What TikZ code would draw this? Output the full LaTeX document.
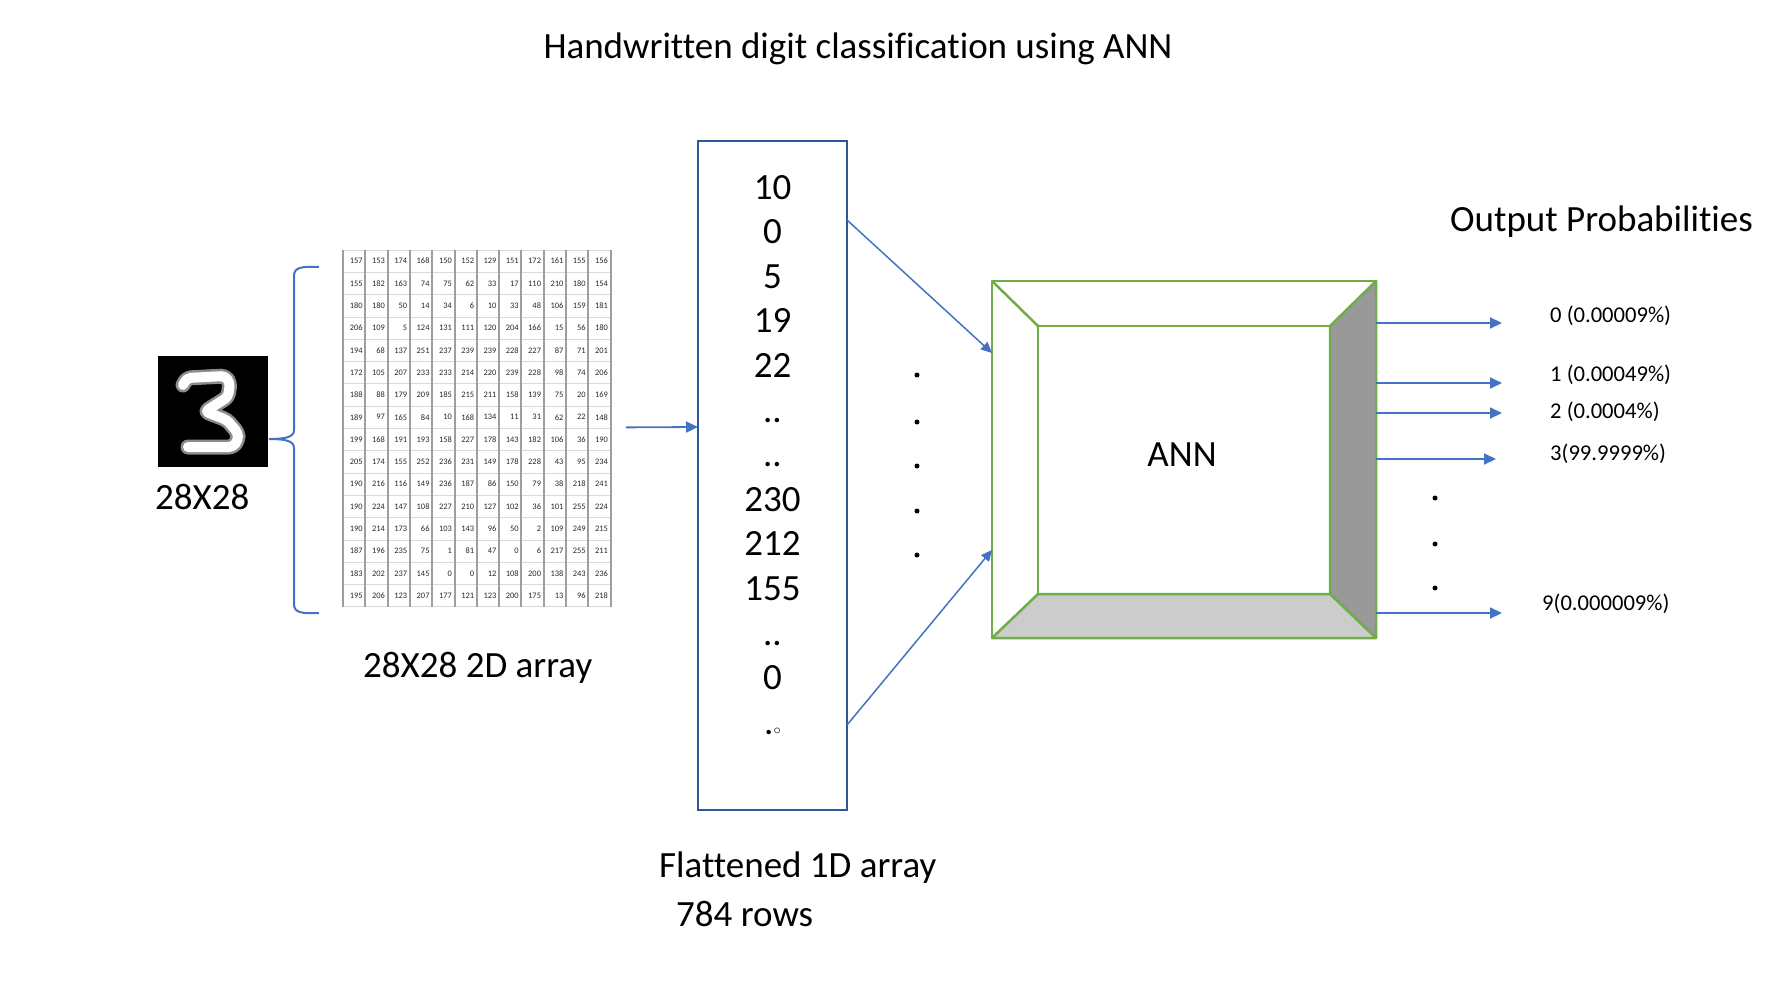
\documentclass[tikz,border=0pt]{standalone}
\usepackage{fontspec}
\setmainfont[Ligatures=NoCommon]{Carlito}
\usetikzlibrary{arrows.meta,calc}
\definecolor{arrowblue}{HTML}{4472C4}
\definecolor{boxblue}{HTML}{2F5597}
\definecolor{anngreen}{HTML}{70AD47}
\definecolor{sidegray}{HTML}{999999}
\definecolor{floorgray}{HTML}{CCCCCC}

\begin{document}
\begin{tikzpicture}[x=1pt,y=-1pt,
    big/.style={inner sep=0pt, font=\fontsize{37}{44}\selectfont},
    small/.style={inner sep=0pt, font=\fontsize{22.6}{26}\selectfont},
    cellnum/.style={inner sep=0pt, anchor=east, font=\fontsize{8.4}{9}\selectfont, text=black!85},
    gridv/.style={draw=black!38, line width=2pt},
    gridh/.style={draw=black!15, line width=0.8pt},
    flow/.style={draw=arrowblue, line width=1.8pt, -{Triangle[length=12pt,width=11pt]}},
    thinflow/.style={draw=arrowblue, line width=1.5pt, -{Triangle[length=11pt,width=10pt]}},
    annline/.style={draw=anngreen, line width=2.5pt, line join=round},
    ]
    \useasboundingbox (0,0) rectangle (1784,1006);
    \node[big] (title) at (858,49) {Handwritten digit classification using ANN};
    % Input image
    \node[fill=black, minimum width=110pt, minimum height=111pt, inner sep=0pt] (digit) at (213,411.5) {};
    \draw[black!45, line width=15pt, line cap=round, line join=round, rounded corners=4pt]
        (183,385) -- (187,378) -- (225,376) -- (230,383) -- (228,397) -- (205,411.5) -- (227,420)
        -- (238,433) -- (238,440) -- (233,447) -- (188,447);
    \draw[white, line width=10pt, line cap=round, line join=round, rounded corners=4pt]
        (183,385) -- (187,378) -- (225,376) -- (230,383) -- (228,397) -- (205,411.5) -- (227,420)
        -- (238,433) -- (238,440) -- (233,447) -- (188,447);
    \node[big, anchor=west] (imglbl) at (155,497) {28X28};
    % Brace
    \draw[arrowblue, line width=2pt] (319,267) .. controls (300,266) and (294,268) .. (294,276) -- (294,430)
        .. controls (294,437) and (286,439) .. (269,439) .. controls (286,439) and (294,441) .. (294,448)
        -- (294,604) .. controls (294,612) and (300,614) .. (319,613);
    % 2D array
    \node[inner sep=0pt, minimum width=267.6pt, minimum height=356.8pt] (grid) at (476.8,428.4) {};
    \foreach \i in {0,...,16} \draw[gridh] (343,250+\i*22.3) -- (610.6,250+\i*22.3);
    \foreach \i in {0,...,12} \draw[gridv] (343+\i*22.3,250) -- (343+\i*22.3,606.8);
    \foreach \row [count=\r] in {
        {157,153,174,168,150,152,129,151,172,161,155,156},
        {155,182,163,74,75,62,33,17,110,210,180,154},
        {180,180,50,14,34,6,10,33,48,106,159,181},
        {206,109,5,124,131,111,120,204,166,15,56,180},
        {194,68,137,251,237,239,239,228,227,87,71,201},
        {172,105,207,233,233,214,220,239,228,98,74,206},
        {188,88,179,209,185,215,211,158,139,75,20,169},
        {189,97,165,84,10,168,134,11,31,62,22,148},
        {199,168,191,193,158,227,178,143,182,106,36,190},
        {205,174,155,252,236,231,149,178,228,43,95,234},
        {190,216,116,149,236,187,86,150,79,38,218,241},
        {190,224,147,108,227,210,127,102,36,101,255,224},
        {190,214,173,66,103,143,96,50,2,109,249,215},
        {187,196,235,75,1,81,47,0,6,217,255,211},
        {183,202,237,145,0,0,12,108,200,138,243,236},
        {195,206,123,207,177,121,123,200,175,13,96,218}} {
        \foreach \v [count=\c] in \row
            \node[cellnum] (cell-\r-\c) at (343+\c*22.3-2.5, 250+\r*22.3-11.15) {\v};
    }
    \node[big, anchor=west] (gridlbl) at (363,668) {28X28 2D array};
    % Flattened column
    \node[draw=boxblue, line width=2pt, outer sep=0pt, inner sep=0pt, minimum width=149pt, minimum height=669pt] (flat) at (772.5,475.5) {};
    \foreach \v [count=\i from 0] in {10,0,5,19,22,{..},{..},230,212,155,{..},0,{.{\fontsize{14}{14}\selectfont$\circ$}}}
        \node[big, anchor=base] (val-\i) at (772.5,199+\i*44.6) {\v};
    \draw[flow] ($(grid.east)+(15,-1)$) -- (flat.west |- 0,427);
    \node[big, anchor=west] (flatlbl) at (659,868) {Flattened 1D array};
    \node[big, anchor=west] (rowslbl) at (676,914) {784 rows};
    \foreach \y in {375,422,466,511,555} \fill (917,\y) circle (2.5);
    % ANN box
    \node[outer sep=0pt, inner sep=0pt, minimum width=384pt, minimum height=357pt] (ann) at (1184,459.5) {};
    \node[outer sep=0pt, inner sep=0pt, minimum width=292pt, minimum height=268pt] (annin) at (1184,460) {};
    \filldraw[annline, fill=sidegray] (annin.north east) -- (ann.north east) -- (ann.south east) -- (annin.south east) -- cycle;
    \filldraw[annline, fill=floorgray] (annin.south west) -- (annin.south east) -- (ann.south east) -- (ann.south west) -- cycle;
    \draw[annline] (ann.north west) rectangle (ann.south east);
    \draw[annline] (annin.north west) rectangle (annin.south east);
    \draw[annline] (ann.north west) -- (annin.north west);
    \node[big] (annlbl) at (1182,455) {ANN};
    \draw[thinflow] ($(flat.north east)+(0,79)$) -- ($(ann.north west)+(0,72)$);
    \draw[thinflow] ($(flat.north east)+(0,584)$) -- ($(ann.north west)+(0,269)$);
    % Outputs
    \node[big, anchor=west] (outlbl) at (1450,222) {Output Probabilities};
    \foreach \ay/\ax/\ly/\lx/\txt [count=\k] in {
        323/1502/316/1550/{0 (0.00009\%)},
        383/1502/375/1550/{1 (0.00049\%)},
        413/1502/412/1550/{2 (0.0004\%)},
        459/1496/454/1550/{3(99.9999\%)},
        613/1502/604/1542/{9(0.000009\%)}} {
        \coordinate (out-\k) at (\ax,\ay);
        \draw[flow] (ann.east |- out-\k) -- (out-\k);
        \node[small, anchor=west] (prob-\k) at (\lx,\ly) {\txt};
    }
    \foreach \y in {498,544,588} \fill (1435,\y) circle (2.5);
\end{tikzpicture}
\end{document}
